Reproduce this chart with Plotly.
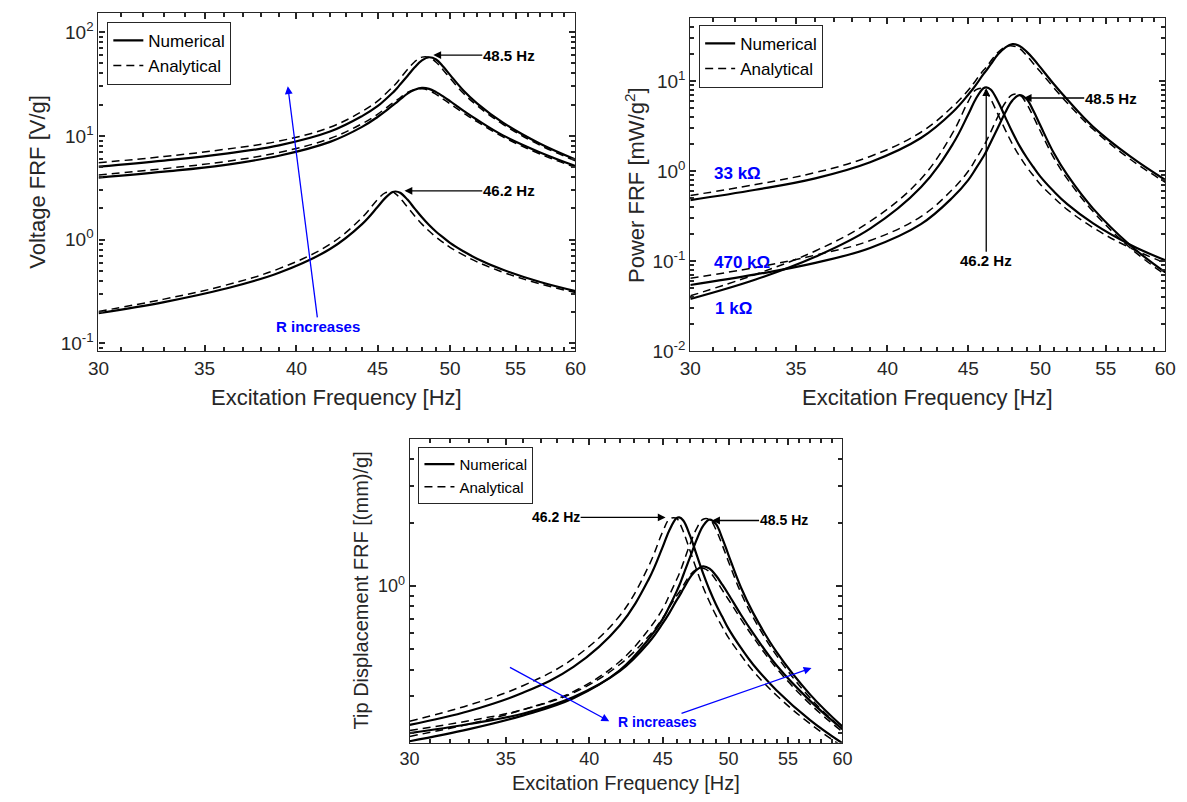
import numpy as np
import plotly.graph_objects as go

# Excitation frequency grid [Hz]
F = [30, 33, 36, 39, 42, 44, 45, 45.5, 46, 46.2, 46.5, 47, 47.5, 48, 48.5, 49, 49.5, 50, 51, 52, 54, 57, 60]

# Voltage FRF [V/g]
V_470k_num = [5.05, 5.78, 6.70, 8.1, 11.0, 15.5, 19.3, 22.3, 26.0, 27.8, 31.2, 37.8, 45.8, 53.4, 57.2, 54.4, 46.6, 38.7, 27.2, 20.6, 13.4, 8.4, 5.93]
V_470k_ana = [5.51, 6.32, 7.40, 8.9, 12.1, 17.2, 21.6, 25.2, 29.6, 31.6, 35.6, 43.6, 51.8, 57.4, 57.2, 51.2, 43.2, 36.0, 25.6, 19.6, 12.9, 8.1, 5.76]
V_33k_num = [3.96, 4.52, 5.23, 6.43, 8.75, 12.2, 15.2, 17.2, 19.7, 20.7, 22.4, 25.5, 27.8, 29.0, 28.4, 26.4, 24.0, 21.6, 17.4, 14.3, 10.1, 6.92, 5.12]
V_33k_ana = [4.20, 4.83, 5.63, 6.92, 9.43, 13.1, 16.1, 18.3, 20.7, 21.6, 23.3, 26.2, 28.0, 28.4, 27.4, 25.1, 22.6, 20.4, 16.6, 13.7, 9.78, 6.67, 4.97]
V_1k_num = [0.195, 0.250, 0.334, 0.479, 0.811, 1.41, 2.06, 2.51, 2.87, 2.91, 2.83, 2.43, 1.99, 1.64, 1.38, 1.19, 1.05, 0.93, 0.769, 0.655, 0.512, 0.39, 0.319]
V_1k_ana = [0.203, 0.267, 0.360, 0.525, 0.903, 1.63, 2.43, 2.82, 2.87, 2.76, 2.51, 2.06, 1.69, 1.41, 1.21, 1.055, 0.94, 0.842, 0.71, 0.611, 0.485, 0.374, 0.309]

# Power FRF [mW/g^2]
P_33k_num = [0.475, 0.619, 0.829, 1.25, 2.32, 4.51, 7.00, 8.96, 11.8, 13.0, 15.2, 19.7, 23.4, 25.5, 24.4, 21.1, 17.5, 14.1, 9.17, 6.20, 3.09, 1.45, 0.794]
P_33k_ana = [0.535, 0.707, 0.960, 1.45, 2.69, 5.20, 7.85, 10.1, 13.0, 14.1, 16.5, 20.8, 23.8, 24.4, 22.8, 19.1, 15.5, 12.6, 8.35, 5.69, 2.90, 1.35, 0.749]
P_470k_num = [0.0543, 0.0711, 0.0955, 0.140, 0.257, 0.511, 0.793, 1.06, 1.44, 1.64, 2.07, 3.04, 4.46, 6.07, 6.96, 6.30, 4.62, 3.19, 1.57, 0.903, 0.382, 0.150, 0.0748]
P_470k_ana = [0.0646, 0.0850, 0.1165, 0.169, 0.312, 0.629, 0.993, 1.35, 1.86, 2.13, 2.70, 4.04, 5.71, 7.01, 6.96, 5.58, 3.97, 2.76, 1.39, 0.817, 0.354, 0.140, 0.0706]
P_1k_num = [0.0380, 0.0625, 0.1116, 0.229, 0.658, 1.99, 4.24, 6.30, 8.24, 8.47, 8.01, 5.90, 3.96, 2.69, 1.90, 1.42, 1.10, 0.865, 0.591, 0.429, 0.262, 0.152, 0.102]
P_1k_ana = [0.0412, 0.0713, 0.1296, 0.276, 0.815, 2.66, 5.90, 7.95, 8.24, 7.62, 6.30, 4.24, 2.86, 1.99, 1.46, 1.113, 0.884, 0.709, 0.504, 0.373, 0.235, 0.140, 0.0955]

# Tip displacement FRF [(mm)/g]
D_1k_num = [0.219, 0.255, 0.312, 0.413, 0.650, 1.079, 1.541, 1.857, 2.101, 2.121, 2.049, 1.740, 1.411, 1.150, 0.958, 0.818, 0.714, 0.626, 0.508, 0.424, 0.319, 0.230, 0.179]
D_1k_ana = [0.228, 0.272, 0.337, 0.453, 0.723, 1.247, 1.818, 2.087, 2.101, 2.012, 1.817, 1.475, 1.198, 0.988, 0.840, 0.725, 0.639, 0.567, 0.469, 0.395, 0.302, 0.221, 0.173]
D_33k_num = [0.200, 0.221, 0.248, 0.297, 0.394, 0.539, 0.666, 0.750, 0.855, 0.896, 0.968, 1.097, 1.193, 1.241, 1.210, 1.122, 1.015, 0.912, 0.731, 0.598, 0.419, 0.284, 0.209]
D_33k_ana = [0.206, 0.229, 0.259, 0.311, 0.424, 0.579, 0.705, 0.798, 0.898, 0.935, 1.007, 1.127, 1.201, 1.216, 1.167, 1.067, 0.956, 0.861, 0.697, 0.573, 0.406, 0.274, 0.203]
D_470k_num = [0.183, 0.209, 0.243, 0.293, 0.398, 0.561, 0.699, 0.807, 0.941, 1.006, 1.129, 1.368, 1.658, 1.933, 2.071, 1.969, 1.687, 1.401, 0.985, 0.746, 0.485, 0.304, 0.215]
D_470k_ana = [0.193, 0.221, 0.259, 0.315, 0.438, 0.623, 0.782, 0.912, 1.072, 1.144, 1.289, 1.578, 1.875, 2.078, 2.071, 1.853, 1.564, 1.303, 0.927, 0.710, 0.467, 0.293, 0.209]

X_TICKS = [30, 35, 40, 45, 50, 55, 60]
X_TICKTEXT = ["30", "35", "40", "45", "50", "55", "60"]

AX = "#262626"
FONT = "Liberation Sans, Arial, sans-serif"
W, H = 1187, 802
BLUE = "#0000ff"

fig = go.Figure()

# panel geometry in pixels: (left, right, top, bottom)
GEOM = {
    1: (81, 567, 5, 348),
    2: (684, 1168, 10, 348),
    3: (398, 839, 437, 745),
}
YRANGE = {
    1: [np.log10(0.084), np.log10(153)],
    2: [-2, np.log10(50)],
    3: [np.log10(0.18), np.log10(5)],
}

panels = [
    (1, "legend", [(V_470k_num, V_470k_ana), (V_33k_num, V_33k_ana), (V_1k_num, V_1k_ana)]),
    (2, "legend2", [(P_33k_num, P_33k_ana), (P_470k_num, P_470k_ana), (P_1k_num, P_1k_ana)]),
    (3, "legend3", [(D_1k_num, D_1k_ana), (D_33k_num, D_33k_ana), (D_470k_num, D_470k_ana)]),
]


def sfx(i):
    return "" if i == 1 else str(i)


for p, leg, series in panels:
    xa, ya = "x" + sfx(p), "y" + sfx(p)
    for i, (num, ana) in enumerate(series):
        fig.add_trace(go.Scatter(
            x=F, y=num, xaxis=xa, yaxis=ya, mode="lines", name="Numerical",
            line=dict(color="black", width=2.2, shape="spline", smoothing=1.1),
            showlegend=(i == 0), legend=leg, legendrank=1, hoverinfo="skip"))
        fig.add_trace(go.Scatter(
            x=F, y=ana, xaxis=xa, yaxis=ya, mode="lines", name="Analytical",
            line=dict(color="black", width=1.5, dash="8px,5px", shape="spline", smoothing=1.1),
            showlegend=(i == 0), legend=leg, legendrank=2, hoverinfo="skip"))


def xdom(a, b):
    return [a / W, b / W]


def ydom(top, bottom):
    return [1 - bottom / H, 1 - top / H]


def y_minor_vals(lo_dec, hi_dec):
    vals = []
    for d in range(lo_dec, hi_dec + 1):
        for m in range(2, 10):
            vals.append(m * 10.0 ** d)
    return vals


X_MINOR = [float(v) for v in range(31, 60) if v % 5 != 0]

YTICKS = {
    1: ([0.1, 1, 10, 100], [-1, 0, 1, 2], y_minor_vals(-2, 2)),
    2: ([0.01, 0.1, 1, 10], [-2, -1, 0, 1], y_minor_vals(-2, 1)),
    3: ([1], [0], y_minor_vals(-1, 0)),
}
TICKFONT = {1: 19, 2: 19, 3: 18}

layout = dict(width=W, height=H, margin=dict(l=0, r=0, t=0, b=0),
              paper_bgcolor="white", plot_bgcolor="white",
              font=dict(family=FONT, color=AX), showlegend=True)

common = dict(showgrid=False, zeroline=False, ticks="inside", tickwidth=1.5,
              tickcolor=AX, showline=True, linecolor=AX, linewidth=1.2, mirror="ticks")

for p in (1, 2, 3):
    l, r, t, b = GEOM[p]
    s = sfx(p)
    tv, ex, yminor = YTICKS[p]
    layout["xaxis" + s] = dict(
        domain=xdom(l, r), anchor="y" + s, type="log", range=[np.log10(30), np.log10(60)],
        tickmode="array", tickvals=X_TICKS, ticktext=X_TICKTEXT, ticklen=6,
        tickfont=dict(size=TICKFONT[p], color=AX, family=FONT), **common)
    layout["yaxis" + s] = dict(
        domain=ydom(t, b), anchor="x" + s, type="log", range=YRANGE[p],
        tickmode="array", tickvals=tv, ticktext=["10<sup>%d</sup>" % e for e in ex], ticklen=6,
        tickfont=dict(size=TICKFONT[p], color=AX, family=FONT), **common)
    # minor-tick overlay axes
    mx, my = 3 + p, 3 + p
    layout["xaxis%d" % mx] = dict(
        domain=xdom(l, r), anchor="y" + s, overlaying="x" + s, type="log",
        range=[np.log10(30), np.log10(60)], tickmode="array", tickvals=X_MINOR,
        ticklen=4, showticklabels=False, **common)
    layout["yaxis%d" % my] = dict(
        domain=ydom(t, b), anchor="x" + s, overlaying="y" + s, type="log",
        range=YRANGE[p], tickmode="array", tickvals=yminor,
        ticklen=4, showticklabels=False, **common)
    fig.add_trace(go.Scatter(x=[45], y=[10 ** (sum(YRANGE[p]) / 2)], xaxis="x%d" % mx,
                             yaxis="y%d" % my, mode="markers", marker=dict(opacity=0),
                             showlegend=False, hoverinfo="skip"))


def legend_cfg(xpx, ypx, size):
    return dict(x=xpx / W, y=1 - ypx / H, xanchor="left", yanchor="top",
                xref="paper", yref="paper", bordercolor=AX, borderwidth=1,
                bgcolor="white", font=dict(size=size, color="black", family=FONT),
                itemwidth=30, tracegroupgap=0, traceorder="normal")


layout["legend"] = legend_cfg(90, 14, 17)
layout["legend2"] = legend_cfg(693, 17, 17)
layout["legend3"] = legend_cfg(407, 445, 15)

fig.update_layout(**layout)

ann = []


def arrow_label(p, tip, tail, text="", xanchor="center", color="black", size=15):
    xa, ya = "x" + sfx(p), "y" + sfx(p)
    d = dict(
        xref=xa, yref=ya, axref=xa, ayref=ya,
        x=np.log10(tip[0]), y=np.log10(tip[1]),
        ax=np.log10(tail[0]), ay=np.log10(tail[1]),
        showarrow=True, arrowhead=2, arrowsize=1.2, arrowwidth=1.3,
        arrowcolor=color, borderpad=0, xanchor=xanchor, yanchor="middle",
        font=dict(size=size, color=color, family=FONT))
    d["text"] = "<b>%s</b>" % text if text else ""
    ann.append(d)


def label(p, pos, text, anchor="left", color="black", size=15):
    xa, ya = "x" + sfx(p), "y" + sfx(p)
    ann.append(dict(
        xref=xa, yref=ya, x=np.log10(pos[0]), y=np.log10(pos[1]),
        text="<b>%s</b>" % text, showarrow=False, xanchor=anchor, yanchor="middle",
        font=dict(size=size, color=color, family=FONT)))


def title(xpx, ypx, text, size, angle=0):
    ann.append(dict(xref="paper", yref="paper", x=xpx / W, y=1 - ypx / H,
                    text=text, showarrow=False, textangle=angle,
                    xanchor="center", yanchor="middle",
                    font=dict(size=size, color=AX, family=FONT)))


# Voltage panel
arrow_label(1, (48.8, 60), (52.4, 60), "48.5 Hz", "left")
arrow_label(1, (46.8, 2.95), (52.4, 2.95), "46.2 Hz", "left")
arrow_label(1, (39.5, 30.1), (41.3, 0.146), "R increases", "center", BLUE, 15)

# Power panel
arrow_label(2, (48.8, 6.45), (53.3, 6.45), "48.5 Hz", "left")
arrow_label(2, (46.2, 8.3), (46.2, 0.101), "46.2 Hz", "center")
label(2, (30.96, 0.935), "33 k\u03a9", "left", BLUE, 17)
label(2, (30.96, 0.097), "470 k\u03a9", "left", BLUE, 17)
label(2, (31.0, 0.030), "1 k\u03a9", "left", BLUE, 17)

# Displacement panel
arrow_label(3, (45.2, 2.12), (39.45, 2.12), "46.2 Hz", "right", size=14)
arrow_label(3, (48.7, 2.05), (52.5, 2.05), "48.5 Hz", "left", size=14)
arrow_label(3, (41.3, 0.228), (35.2, 0.412), "", "center", BLUE)
arrow_label(3, (57.1, 0.408), (44.6, 0.226), "R increases", "center", BLUE, 14)

# Axis titles
title(324, 395, "Excitation Frequency [Hz]", 22)
title(18, 176.5, "Voltage FRF [V/g]", 22, -90)
title(926, 395, "Excitation Frequency [Hz]", 22)
title(627, 179, "Power FRF [mW/g<sup>2</sup>]", 22, -90)
title(618.5, 786, "Excitation Frequency [Hz]", 20)
title(348, 591, "Tip Displacement FRF [(mm)/g]", 20, -90)

fig.update_layout(annotations=ann)

fig.write_html("out.html")
